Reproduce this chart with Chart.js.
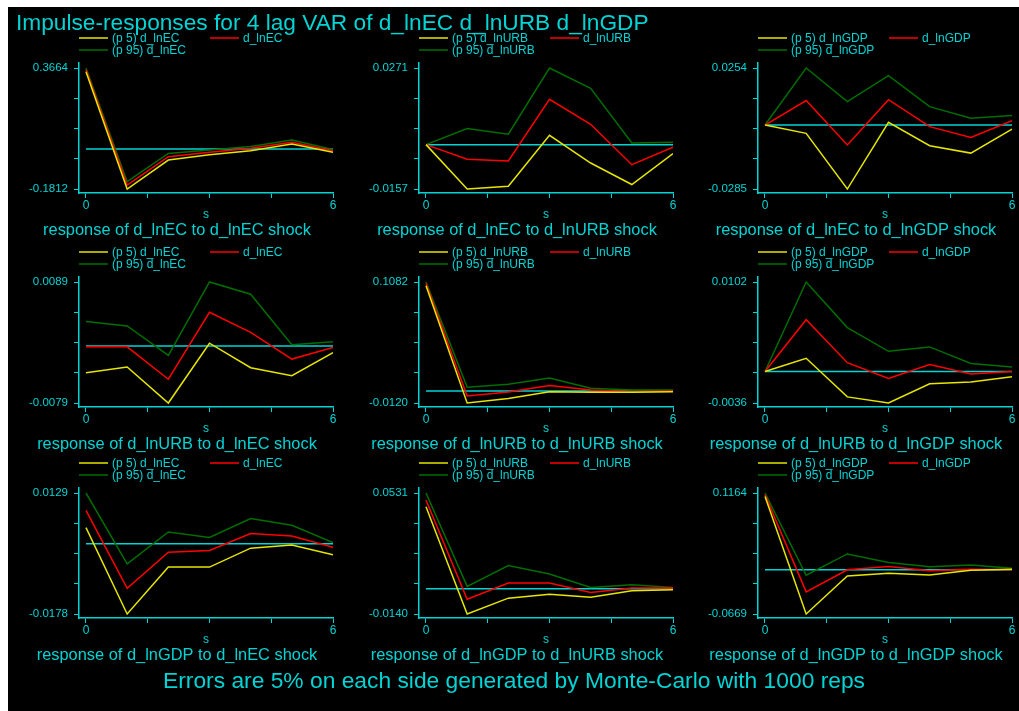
<!DOCTYPE html>
<html>
<head>
<meta charset="utf-8">
<script src="https://cdn.jsdelivr.net/npm/chart.js@4.4.0/dist/chart.umd.min.js"></script>
<style>
  body { margin: 0; background: #fff; width: 1019px; height: 711px; position: relative; overflow: hidden; }
  #frame { position: absolute; left: 8px; top: 7px; width: 1011px; height: 704px; background: #000; }
  canvas { position: absolute; }
  .txt { position: absolute; color: #00d4d4; font-family: "Liberation Sans", Arial, sans-serif; white-space: nowrap; line-height: 1; z-index: 5; }
</style>
</head>
<body>
<div id="frame"></div>
<div class="txt" style="left:16px; top:11px; font-size:22.7px;">Impulse-responses for 4 lag VAR of d_lnEC d_lnURB d_lnGDP</div>
<div class="txt" style="left:163px; top:669px; font-size:22.8px;">Errors are 5% on each side generated by Monte-Carlo with 1000 reps</div>
<script>
var STEPS = [0, 1, 2, 3, 4, 5, 6];
var VARS = ['d_lnEC', 'd_lnURB', 'd_lnGDP'];
var ZERO_LINE = [0, 0, 0, 0, 0, 0, 0];
var X_TICKS = [0, 1.5, 3, 4.5, 6];

// row = response variable, column = impulse (shock) variable
var ecEc_p5   = [0.349, -0.1812, -0.050, -0.026, -0.008, 0.023, -0.015];
var ecEc_irf  = [0.358, -0.163, -0.035, -0.015, 0.003, 0.030, -0.008];
var ecEc_p95  = [0.3664, -0.148, -0.020, -0.005, 0.011, 0.041, -0.003];

var ecUrb_p5  = [0, -0.0157, -0.0147, 0.0033, -0.0065, -0.0141, -0.0032];
var ecUrb_irf = [0, -0.0052, -0.0058, 0.0160, 0.0072, -0.0071, -0.0009];
var ecUrb_p95 = [0, 0.0057, 0.0037, 0.0271, 0.0199, 0.0006, 0.0008];

var ecGdp_p5  = [0, -0.0037, -0.0285, 0.0012, -0.0092, -0.0125, -0.0018];
var ecGdp_irf = [0, 0.0109, -0.0089, 0.0113, -0.0007, -0.0055, 0.0019];
var ecGdp_p95 = [0, 0.0254, 0.0104, 0.0220, 0.0082, 0.0030, 0.0042];

var urbEc_p5  = [-0.0037, -0.0029, -0.0079, 0.0004, -0.0030, -0.0041, -0.0009];
var urbEc_irf = [-0.0001, -0.0001, -0.0046, 0.0047, 0.0019, -0.0018, -0.0002];
var urbEc_p95 = [0.0034, 0.0028, -0.0013, 0.0089, 0.0072, 0.0002, 0.0006];

var urbUrb_p5  = [0.1045, -0.0120, -0.0074, -0.0007, -0.0013, -0.0013, -0.0007];
var urbUrb_irf = [0.1068, -0.0050, -0.0010, 0.0054, 0.0010, -0.0007, 0.0000];
var urbUrb_p95 = [0.1082, 0.0037, 0.0067, 0.0128, 0.0027, 0.0010, 0.0010];

var urbGdp_p5  = [0, 0.0015, -0.0029, -0.0036, -0.0014, -0.0012, -0.0006];
var urbGdp_irf = [0, 0.0059, 0.0010, -0.0008, 0.0008, -0.0003, 0];
var urbGdp_p95 = [0, 0.0102, 0.0050, 0.0023, 0.0028, 0.0009, 0.0005];

var gdpEc_p5  = [0.0041, -0.0178, -0.0059, -0.0059, -0.0011, -0.0003, -0.0028];
var gdpEc_irf = [0.0085, -0.0113, -0.0021, -0.0017, 0.0026, 0.0020, -0.0009];
var gdpEc_p95 = [0.0129, -0.0051, 0.0030, 0.0016, 0.0064, 0.0047, 0.0003];

var gdpUrb_p5  = [0.0455, -0.0140, -0.0052, -0.0030, -0.0047, -0.0011, -0.0006];
var gdpUrb_irf = [0.0492, -0.0058, 0.0032, 0.0032, -0.0021, 0.0004, 0.0004];
var gdpUrb_p95 = [0.0531, 0.0013, 0.0129, 0.0082, 0.0007, 0.0022, 0.0007];

var gdpGdp_p5  = [0.1111, -0.0669, -0.0092, -0.0051, -0.0077, -0.0005, 0.0010];
var gdpGdp_irf = [0.1137, -0.0333, 0, 0.0051, -0.0015, 0.0010, 0];
var gdpGdp_p95 = [0.1164, -0.0082, 0.0241, 0.0113, 0.0046, 0.0072, 0.0026];

var Y_TOP    = ['0.3664', '0.0271', '0.0254', '0.0089', '0.1082', '0.0102', '0.0129', '0.0531', '0.1164'];
var Y_BOTTOM = ['-0.1812', '-0.0157', '-0.0285', '-0.0079', '-0.0120', '-0.0036', '-0.0178', '-0.0140', '-0.0669'];

var SERIES = [
    [ecEc_p5, ecEc_irf, ecEc_p95], [ecUrb_p5, ecUrb_irf, ecUrb_p95], [ecGdp_p5, ecGdp_irf, ecGdp_p95],
    [urbEc_p5, urbEc_irf, urbEc_p95], [urbUrb_p5, urbUrb_irf, urbUrb_p95], [urbGdp_p5, urbGdp_irf, urbGdp_p95],
    [gdpEc_p5, gdpEc_irf, gdpEc_p95], [gdpUrb_p5, gdpUrb_irf, gdpUrb_p95], [gdpGdp_p5, gdpGdp_irf, gdpGdp_p95]
];

var CYAN = '#00d4d4';
var YELLOW = '#e6e600';
var RED = '#ff0000';
var GREEN = '#006e00';
var FONT = '"Liberation Sans", Arial, sans-serif';

var COL_LEFT = [0, 340, 679];
var ROW_TOP = [0, 214, 425];

function pts(arr) {
    return arr.map(function (v, i) { return { x: STEPS[i], y: v }; });
}

// two-column legend like stata: p5 | irf on the first row, p95 below
var stataLegend = {
    id: 'stataLegend',
    afterDraw: function (chart) {
        var ctx = chart.ctx;
        var left = chart.chartArea.left;
        var ds = chart.data.datasets;
        var slots = [[0, 38], [131, 38], [0, 50]];
        ctx.save();
        ctx.font = '12px ' + FONT;
        ctx.textBaseline = 'middle';
        for (var i = 0; i < 3; i++) {
            var x = left + slots[i][0], y = slots[i][1];
            ctx.strokeStyle = ds[i].borderColor;
            ctx.lineWidth = 1.5;
            ctx.beginPath();
            ctx.moveTo(x, y);
            ctx.lineTo(x + 29, y);
            ctx.stroke();
            ctx.fillStyle = CYAN;
            ctx.fillText(ds[i].label, x + 33, y + 1);
        }
        ctx.restore();
    }
};

for (var p = 0; p < 9; p++) {
    var row = Math.floor(p / 3), col = p % 3;
    var canvas = document.createElement('canvas');
    canvas.width = 340;
    canvas.height = 245;
    canvas.style.left = COL_LEFT[col] + 'px';
    canvas.style.top = ROW_TOP[row] + 'px';
    document.body.appendChild(canvas);

    var hi = parseFloat(Y_TOP[p]), lo = parseFloat(Y_BOTTOM[p]);
    var r = hi - lo;
    var shock = VARS[col];
    var s = SERIES[p];

    new Chart(canvas, {
        type: 'line',
        data: {
            datasets: [
                { label: '(p 5) ' + shock, data: pts(s[0]), borderColor: YELLOW },
                { label: shock, data: pts(s[1]), borderColor: RED },
                { label: '(p 95) ' + shock, data: pts(s[2]), borderColor: GREEN },
                { label: 'zero', data: pts(ZERO_LINE), borderColor: CYAN }
            ]
        },
        options: {
            responsive: false,
            animation: false,
            devicePixelRatio: 1,
            layout: { padding: { left: 21, right: 7, top: 63, bottom: 0 } },
            elements: {
                point: { radius: 0 },
                line: { borderWidth: 1.5, tension: 0 }
            },
            plugins: {
                legend: { display: false },
                tooltip: { enabled: false },
                title: {
                    display: true,
                    position: 'bottom',
                    text: 'response of ' + VARS[row] + ' to ' + shock + ' shock',
                    color: CYAN,
                    font: { family: FONT, size: 16.4, weight: 'normal', lineHeight: 1.2 },
                    padding: { top: 0, bottom: 5 }
                }
            },
            scales: {
                x: {
                    type: 'linear',
                    min: -0.17,
                    max: 6,
                    afterBuildTicks: function (sc) {
                        sc.ticks = X_TICKS.map(function (v) { return { value: v }; });
                    },
                    afterFit: function (sc) { sc.height = 27.3; },
                    ticks: {
                        color: CYAN,
                        font: { family: FONT, size: 12 },
                        padding: 0,
                        maxRotation: 0,
                        autoSkip: false,
                        callback: function (v) { return (v === 0 || v === 6) ? String(v) : ''; }
                    },
                    grid: { drawOnChartArea: false, color: CYAN, tickLength: 5 },
                    border: { color: CYAN, width: 1.5 },
                    title: {
                        display: true, text: 's', color: CYAN,
                        font: { family: FONT, size: 12, lineHeight: 1 }, padding: 0
                    }
                },
                y: {
                    min: lo - r * 4 / 121,
                    max: hi + r * 5 / 121,
                    afterBuildTicks: (function (lo, r) {
                        return function (sc) {
                            sc.ticks = [0, 1, 2, 3, 4].map(function (k) { return { value: lo + r * k / 4 }; });
                        };
                    })(lo, r),
                    afterFit: function (sc) { sc.width = 58; },
                    ticks: {
                        color: CYAN,
                        font: { family: FONT, size: 11.5 },
                        padding: 6,
                        autoSkip: false,
                        callback: (function (p) {
                            return function (v, i) {
                                if (i === 0) return Y_BOTTOM[p];
                                if (i === 4) return Y_TOP[p];
                                return '';
                            };
                        })(p)
                    },
                    grid: { drawOnChartArea: false, color: CYAN, tickLength: 5 },
                    border: { color: CYAN, width: 1.5 }
                }
            }
        },
        plugins: [stataLegend]
    });
}
</script>
</body>
